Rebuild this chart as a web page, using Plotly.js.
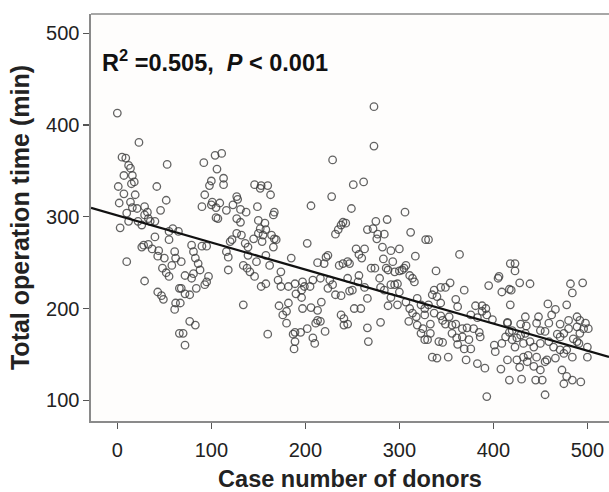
<!DOCTYPE html>
<html>
<head>
<meta charset="utf-8">
<script src="https://cdn.plot.ly/plotly-3.0.1.min.js"></script>
<style>
html,body{margin:0;padding:0;background:#fff;overflow:hidden;}
#chart{width:609px;height:492px;}
</style>
</head>
<body>
<div id="chart"></div>
<script>
// Case number of donors (x) and total operation time in minutes (y)
const caseNumber = [
0,23,5,9,12,14,53,7,16,18,15,42,1,7,19,52,2,14,16,21,29,32,46,10,12,22,26,3,33,35,40,29,40,55,59,55,65,26,28,33,37,44,43,50,61,62,58,48,52,55,10,29,43,47,49,62,61,66,66,
92,104,111,106,100,113,98,113,93,90,101,100,105,109,116,123,128,127,131,137,105,107,127,131,146,152,149,150,152,150,145,154,127,132,122,120,136,139,79,90,95,81,83,68,116,118,139,148,134,138,141,146,118,86,88,81,72,79,97,95,93,84,68,72,77,67,153,134,77,83,70,72,
229,228,206,153,160,163,167,166,157,158,155,167,169,166,164,158,162,185,202,213,220,222,224,240,238,235,232,236,240,158,171,174,174,182,189,197,199,205,208,196,190,216,226,229,224,232,238,196,172,182,180,176,180,197,206,213,217,213,216,211,202,189,187,195,189,188,208,210,160,221,238,241,
273,273,251,262,249,243,306,287,275,266,272,277,284,276,312,328,254,263,257,260,282,291,300,317,283,293,245,247,270,274,286,288,295,300,305,307,303,311,314,316,279,257,245,256,247,250,263,266,280,284,291,295,298,300,291,288,298,307,311,319,323,327,314,318,327,310,319,325,323,327,252,259,241,245,266,280,267,
331,364,339,354,349,344,337,335,340,369,395,406,405,409,417,418,360,362,344,331,381,388,392,388,393,399,376,383,415,337,333,344,346,349,353,356,360,367,372,379,385,386,356,361,367,374,376,369,362,346,342,333,330,335,340,352,371,383,391,401,402,409,413,417,415,408,417,393,
423,423,428,439,419,482,495,484,458,466,478,462,448,446,450,459,471,480,489,492,498,496,501,489,492,475,480,468,471,455,435,434,415,425,429,420,423,432,439,443,450,459,464,471,478,485,491,500,500,484,475,466,457,455,446,437,432,425,436,428,443,450,473,478,484,475,493,445,452,430,455,489,418,434,420,429
];
const operationTime = [
413,381,365,364,356,353,357,345,345,338,336,333,333,325,324,318,315,316,310,309,311,305,307,304,295,295,291,288,298,295,295,302,278,284,287,275,284,267,269,270,265,263,257,255,262,255,247,244,239,235,251,230,218,214,210,206,199,222,173,
359,367,369,352,339,342,334,335,324,311,316,313,310,315,307,313,319,322,308,305,299,298,298,294,335,331,311,296,287,282,276,273,282,280,275,273,271,267,269,268,268,262,255,251,262,256,258,251,247,244,240,235,242,249,242,238,236,233,235,229,226,222,222,216,215,206,224,204,186,182,173,160,
362,322,312,334,334,324,305,302,293,286,280,276,275,267,280,258,247,255,271,250,249,256,258,294,291,286,281,247,249,227,231,240,224,224,227,229,224,224,231,220,216,233,231,226,222,215,214,212,203,206,197,193,184,200,201,198,207,187,186,184,178,174,172,174,164,156,168,162,172,175,193,182,
420,377,335,338,309,293,305,297,295,286,287,281,281,276,283,275,265,265,259,255,267,263,265,257,254,251,251,249,244,244,244,242,240,241,244,247,242,236,233,229,233,236,233,229,219,220,223,211,223,220,226,226,227,218,212,203,204,207,200,211,204,200,195,191,193,186,182,178,173,166,200,200,189,183,179,185,164,
275,259,241,228,223,223,220,215,213,220,225,235,233,218,221,249,210,202,206,204,203,203,200,197,193,188,193,190,185,195,183,192,187,183,191,182,183,178,179,178,174,169,173,168,169,166,156,156,161,163,164,173,166,147,146,147,144,140,135,160,153,162,169,174,144,134,122,104,
249,241,228,227,220,227,228,217,205,199,204,193,191,184,176,184,183,187,191,187,184,178,178,180,173,173,178,172,169,175,181,173,184,168,171,166,158,162,164,158,162,164,158,155,155,167,162,158,147,147,151,146,144,142,147,149,147,144,142,136,137,133,133,126,122,118,120,122,122,123,106,164,204,191,176,183
];

// Least-squares fit line
const fitIntercept = 301.5;
const fitSlope = -0.295;

const xTicks = [0, 100, 200, 300, 400, 500];
const yTicks = [100, 200, 300, 400, 500];
const xRange = [-28, 523];
const yRange = [77.4, 521];

const fitX = xRange.slice();
const fitY = fitX.map(v => fitIntercept + fitSlope * v);

const font = 'Liberation Sans, Arial, Helvetica, sans-serif';

const traces = [
  {
    type: 'scatter', mode: 'markers',
    x: caseNumber, y: operationTime,
    marker: {symbol: 'circle-open', size: 7.5, color: 'rgba(60,60,60,0.8)', line: {width: 1.3, color: 'rgba(60,60,60,0.8)'}},
    hoverinfo: 'skip', showlegend: false
  },
  {
    type: 'scatter', mode: 'lines',
    x: fitX, y: fitY,
    line: {color: '#111', width: 2.2},
    hoverinfo: 'skip', showlegend: false
  }
];

const layout = {
  width: 609, height: 492,
  margin: {l: 90.5, r: 0, t: 14, b: 71.3, pad: 0},
  paper_bgcolor: '#ffffff',
  plot_bgcolor: '#fefdfc',
  showlegend: false,
  font: {family: font, color: '#222'},
  xaxis: {
    range: xRange, tickvals: xTicks, ticktext: xTicks.map(String),
    showgrid: false, zeroline: false,
    showline: true, linecolor: '#8a8a8a', linewidth: 1.6, mirror: false,
    ticks: 'outside', ticklen: 6, tickwidth: 1.3, tickcolor: '#555',
    ticklabelstandoff: 4,
    tickfont: {size: 20, color: '#222', family: font},
    title: {text: '<b>Case number of donors</b>', font: {size: 23.5, color: '#222', family: font}, standoff: 12},
    automargin: false
  },
  yaxis: {
    range: yRange, tickvals: yTicks, ticktext: yTicks.map(String),
    showgrid: false, zeroline: false,
    showline: true, linecolor: '#8a8a8a', linewidth: 1.6, mirror: false,
    ticks: 'outside', ticklen: 6, tickwidth: 1.3, tickcolor: '#555',
    tickfont: {size: 20, color: '#222', family: font},
    title: {text: '<b>Total operation time (min)</b>', font: {size: 25, color: '#222', family: font}, standoff: 9},
    automargin: false
  },
  shapes: [
    {type: 'line', xref: 'paper', yref: 'paper', x0: 0, x1: 1, y0: 1, y1: 1, line: {color: '#8a8a8a', width: 1.6}}
  ],
  annotations: [
    {
      xref: 'paper', yref: 'paper', x: 0.017, y: 0.885, xanchor: 'left', yanchor: 'middle',
      text: '<b>R<sup>2</sup> =0.505,  <i>P</i> &lt; 0.001</b>',
      showarrow: false, font: {size: 23.5, color: '#111', family: font}
    }
  ]
};

Plotly.newPlot('chart', traces, layout, {displayModeBar: false, staticPlot: true});
</script>
</body>
</html>
